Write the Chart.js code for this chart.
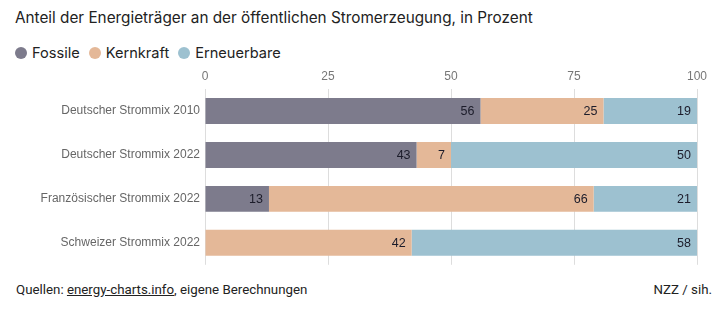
<!DOCTYPE html>
<html>
<head>
<meta charset="utf-8">
<script src="https://cdn.jsdelivr.net/npm/chart.js@4"></script>
<style>
  html, body { margin: 0; padding: 0; background: #fff; }
  body { width: 726px; height: 323px; position: relative; overflow: hidden; font-family: "Inter", "Roboto", sans-serif; }
  #titel { position: absolute; left: 15px; top: 8px; font-size: 15.3px; color: #222; white-space: nowrap; }
  #legende { position: absolute; left: 15px; top: 44px; font-size: 14.6px; color: #222; white-space: nowrap; }
  #legende span.eintrag { margin-right: 9px; }
  #legende span.punkt { display: inline-block; width: 12px; height: 12px; border-radius: 50%; margin-right: 5px; vertical-align: -1px; }
  #mixChart { position: absolute; left: 0; top: 65px; }
  #fuss { position: absolute; left: 16px; right: 14px; top: 282px; font-family: "Roboto", sans-serif; font-size: 13.3px; color: #222; }
  #fuss a { color: #222; text-decoration: underline; }
  #fuss .rechts { position: absolute; right: 0; top: 0; }
</style>
</head>
<body>
<div id="titel">Anteil der Energieträger an der öffentlichen Stromerzeugung, in Prozent</div>
<div id="legende"></div>
<!-- die y-Achse reserviert unten etwa eine halbe Labelhöhe, daher etwas höher -->
<canvas id="mixChart" width="726" height="212"></canvas>
<div id="fuss">Quellen: <a>energy-charts.info</a>, eigene Berechnungen<span class="rechts">NZZ / sih.</span></div>
<script>
// Kategorien und Anteile (Prozent)
const kategorien = ['Deutscher Strommix 2010', 'Deutscher Strommix 2022', 'Französischer Strommix 2022', 'Schweizer Strommix 2022'];
const fossile = [56, 43, 13, 0];
const kernkraft = [25, 7, 66, 42];
const erneuerbare = [19, 50, 21, 58];
const achsenTicks = [0, 25, 50, 75, 100];

const serien = [
    { label: 'Fossile', data: fossile, farbe: '#7d7b8c' },
    { label: 'Kernkraft', data: kernkraft, farbe: '#e4b898' },
    { label: 'Erneuerbare', data: erneuerbare, farbe: '#9dc1d0' }
];

const achsenSchrift = '"Liberation Sans", "Arial", sans-serif';

// Legende als HTML
const legende = document.getElementById('legende');
serien.forEach(s => {
    const e = document.createElement('span');
    e.className = 'eintrag';
    e.innerHTML = `<span class="punkt" style="background:${s.farbe}"></span>${s.label}`;
    legende.appendChild(e);
});

// Werte rechtsbündig am Ende jedes Segments
const wertePlugin = {
    id: 'werte',
    afterDatasetsDraw(chart) {
        const ctx = chart.ctx;
        ctx.save();
        ctx.font = '12.5px ' + achsenSchrift;
        ctx.fillStyle = '#1c1c2a';
        ctx.textAlign = 'right';
        ctx.textBaseline = 'middle';
        chart.data.datasets.forEach((ds, i) => {
            chart.getDatasetMeta(i).data.forEach((bar, j) => {
                const v = ds.data[j];
                if (!v) return;
                ctx.fillText(String(v), bar.x - 6, bar.y + 1);
            });
        });
        ctx.restore();
    }
};

new Chart(document.getElementById('mixChart'), {
    type: 'bar',
    data: {
        labels: kategorien,
        datasets: serien.map(s => ({
            label: s.label,
            data: s.data,
            backgroundColor: s.farbe,
            borderWidth: 0,
            barPercentage: 1,
            categoryPercentage: 0.59
        }))
    },
    options: {
        indexAxis: 'y',
        responsive: false,
        animation: false,
        layout: { padding: { left: 0, right: 29, top: 0, bottom: 0 } },
        scales: {
            x: {
                position: 'top',
                stacked: true,
                min: 0,
                max: 100,
                afterBuildTicks(axis) { axis.ticks = achsenTicks.map(v => ({ value: v })); },
                afterFit(axis) { axis.height = 24; },
                grid: { color: '#dddddd', drawTicks: false },
                border: { display: false },
                ticks: { color: '#777', font: { size: 12, family: achsenSchrift }, padding: 5 }
            },
            y: {
                stacked: true,
                afterFit(axis) { axis.width = 205; },
                grid: { display: false, drawTicks: false },
                border: { display: false },
                ticks: { color: '#666', font: { size: 12, family: achsenSchrift }, padding: 5 }
            }
        },
        plugins: {
            legend: { display: false },
            tooltip: { enabled: false }
        }
    },
    plugins: [wertePlugin]
});
</script>
</body>
</html>
